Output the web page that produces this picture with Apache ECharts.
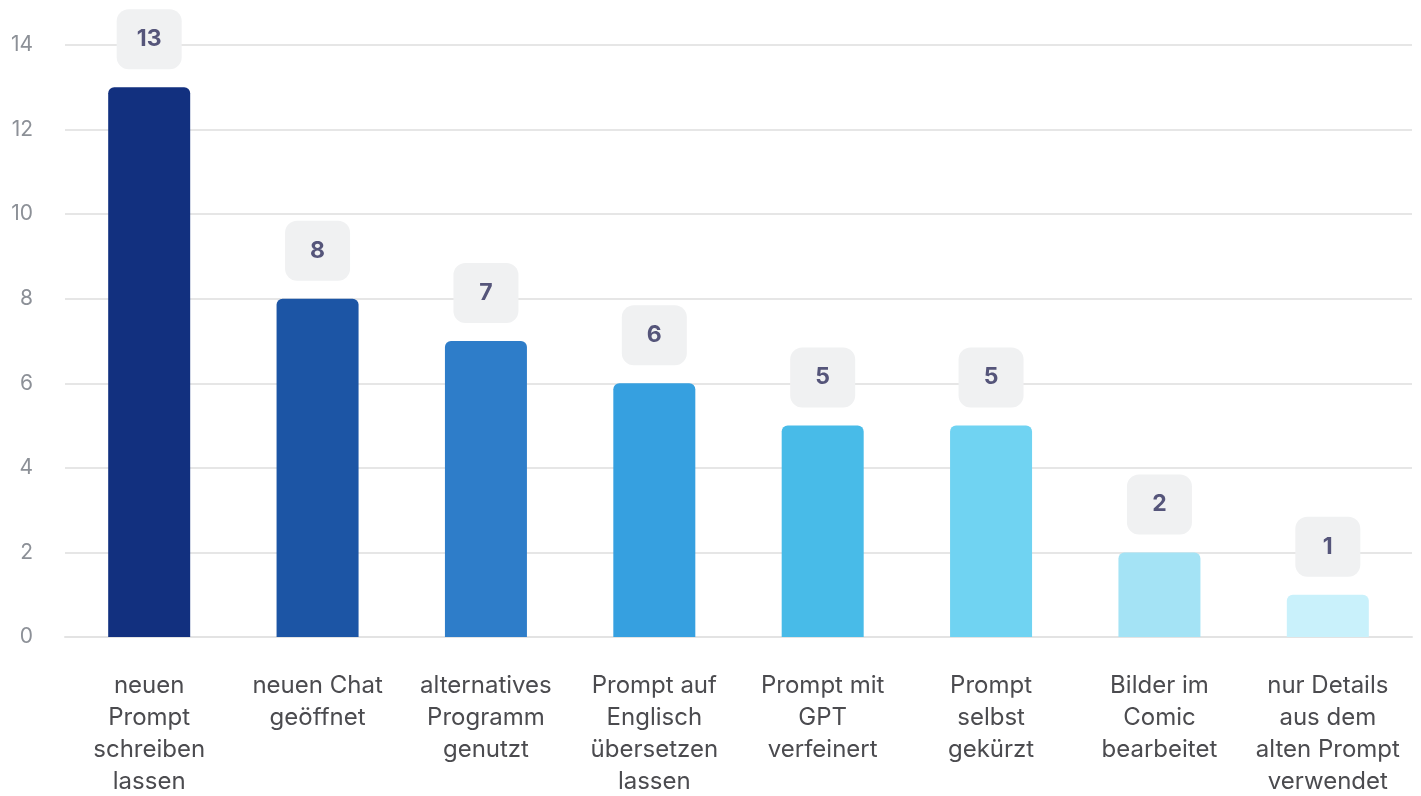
<!DOCTYPE html>
<html>
<head>
<meta charset="utf-8">
<script src="https://cdn.jsdelivr.net/npm/echarts@6/dist/echarts.min.js"></script>
<style>
  html, body { margin: 0; padding: 0; background: #fff; }
  #chart { width: 1421px; height: 796px; }
</style>
</head>
<body>
<div id="chart"></div>
<script>
const categories = [
  'neuen\nPrompt\nschreiben\nlassen',
  'neuen Chat\ngeöffnet',
  'alternatives\nProgramm\ngenutzt',
  'Prompt auf\nEnglisch\nübersetzen\nlassen',
  'Prompt mit\nGPT\nverfeinert',
  'Prompt\nselbst\ngekürzt',
  'Bilder im\nComic\nbearbeitet',
  'nur Details\naus dem\nalten Prompt\nverwendet'
]
const counts = [13, 8, 7, 6, 5, 5, 2, 1]
const barColors = ['#12307f', '#1c55a5', '#2e7dc9', '#36a0e0', '#48bbe8', '#70d3f2', '#a4e3f5', '#c9f1fb']
const yTicks = { min: 0, max: 14, interval: 2 }

const chart = echarts.init(document.getElementById('chart'))
chart.setOption({
  animation: false,
  textStyle: { fontFamily: 'Inter' },
  grid: { top: 45, left: 65, right: 9, bottom: 159, outerBoundsMode: 'none' },
  xAxis: {
    type: 'category',
    data: categories,
    axisTick: { show: false },
    axisLine: { lineStyle: { color: '#e3e3e3', width: 2 } },
    axisLabel: {
      interval: 0,
      margin: 33,
      fontSize: 24,
      lineHeight: 32,
      color: '#4b4b4f'
    }
  },
  yAxis: {
    type: 'value',
    min: yTicks.min,
    max: yTicks.max,
    interval: yTicks.interval,
    axisLabel: { fontSize: 21, color: '#8c9097', margin: 32 },
    splitLine: { lineStyle: { color: '#e6e6e6', width: 2 } }
  },
  series: [{
    type: 'bar',
    barWidth: 82,
    data: counts.map((v, i) => ({ value: v, itemStyle: { color: barColors[i] } })),
    itemStyle: { borderRadius: [6, 6, 0, 0] },
    label: {
      show: true,
      position: 'top',
      distance: 18,
      backgroundColor: '#f0f1f2',
      borderRadius: 12,
      width: 65,
      height: 60,
      lineHeight: 60,
      align: 'center',
      fontSize: 23,
      fontWeight: 'bold',
      color: '#55557a'
    }
  }]
})
</script>
</body>
</html>
